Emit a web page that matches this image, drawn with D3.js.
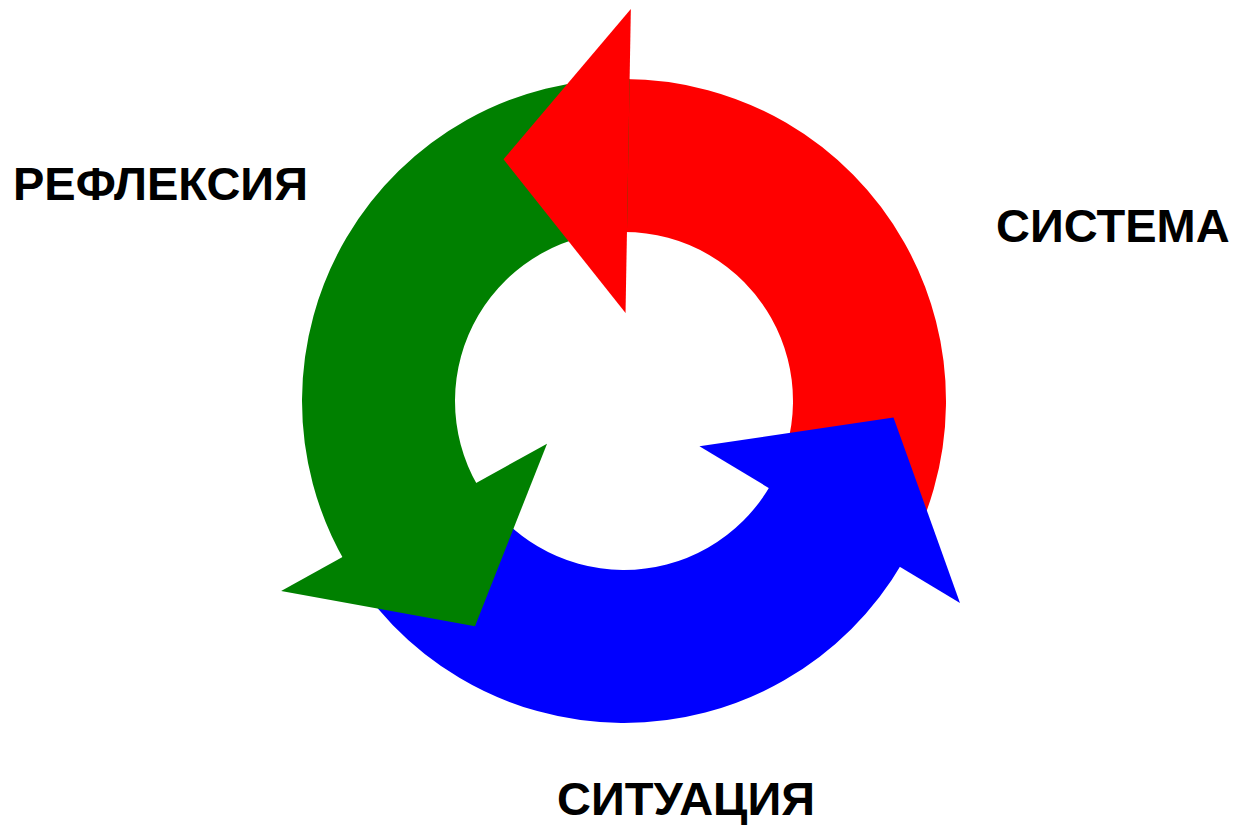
<!DOCTYPE html>
<html>
<head>
<meta charset="utf-8">
<script src="https://cdn.jsdelivr.net/npm/d3@7"></script>
<style>
  body { margin: 0; background: #fff; }
  svg { display: block; }
</style>
</head>
<body>
<div id="cycle"></div>
<script>
// the three stages of the cycle, in drawing order
const stages = ["СИСТЕМА", "СИТУАЦИЯ", "РЕФЛЕКСИЯ"];
const colors = ["#ff0000", "#0000ff", "#008000"];
const weights = [1, 1, 1];

const width = 1233;
const height = 825;
const cx = 624, cy = 401;
const innerR = 169, outerR = 322;

// arrow head sizes
const wingIn = 88, wingOut = 392, tipR = 270;
const tipSweep = 27.5 * Math.PI / 180;
const offset = 1 * Math.PI / 180;
const tuck = 1 * Math.PI / 180; // body runs a little under its own head

const svg = d3.select("#cycle")
    .append("svg")
    .attr("width", width)
    .attr("height", height);

const g = svg.append("g")
    .attr("transform", `translate(${cx}, ${cy})`);

const pie = d3.pie()
    .sort(null)
    .value(d => d)
    .startAngle(offset)
    .endAngle(offset + 2 * Math.PI);

const slices = pie(weights);

const arc = d3.arc()
    .innerRadius(innerR)
    .outerRadius(outerR)
    .startAngle(d => d.startAngle - tuck)
    .endAngle(d => d.endAngle);

// arc bodies first
g.selectAll("path.body")
    .data(slices)
    .enter()
    .append("path")
    .attr("class", "body")
    .attr("d", arc)
    .attr("fill", (d, i) => colors[i]);

// then heads on top, pointing back against the angle
g.selectAll("path.head")
    .data(slices)
    .enter()
    .append("path")
    .attr("class", "head")
    .attr("d", d => {
        const a = d.startAngle;
        const pts = [
            d3.pointRadial(a, wingIn),
            d3.pointRadial(a - tipSweep, tipR),
            d3.pointRadial(a, wingOut)
        ];
        return d3.line()(pts) + "Z";
    })
    .attr("fill", (d, i) => colors[i]);

// labels
const labelPos = [
    { x: 996, y: 242 },
    { x: 557, y: 815 },
    { x: 13, y: 200 }
];

svg.selectAll("text.label")
    .data(stages)
    .enter()
    .append("text")
    .attr("class", "label")
    .attr("x", (d, i) => labelPos[i].x)
    .attr("y", (d, i) => labelPos[i].y)
    .attr("font-family", "'Liberation Sans', Arial, sans-serif")
    .attr("font-weight", "bold")
    .attr("font-size", 47)
    .attr("fill", "#000")
    .text(d => d);
</script>
</body>
</html>
